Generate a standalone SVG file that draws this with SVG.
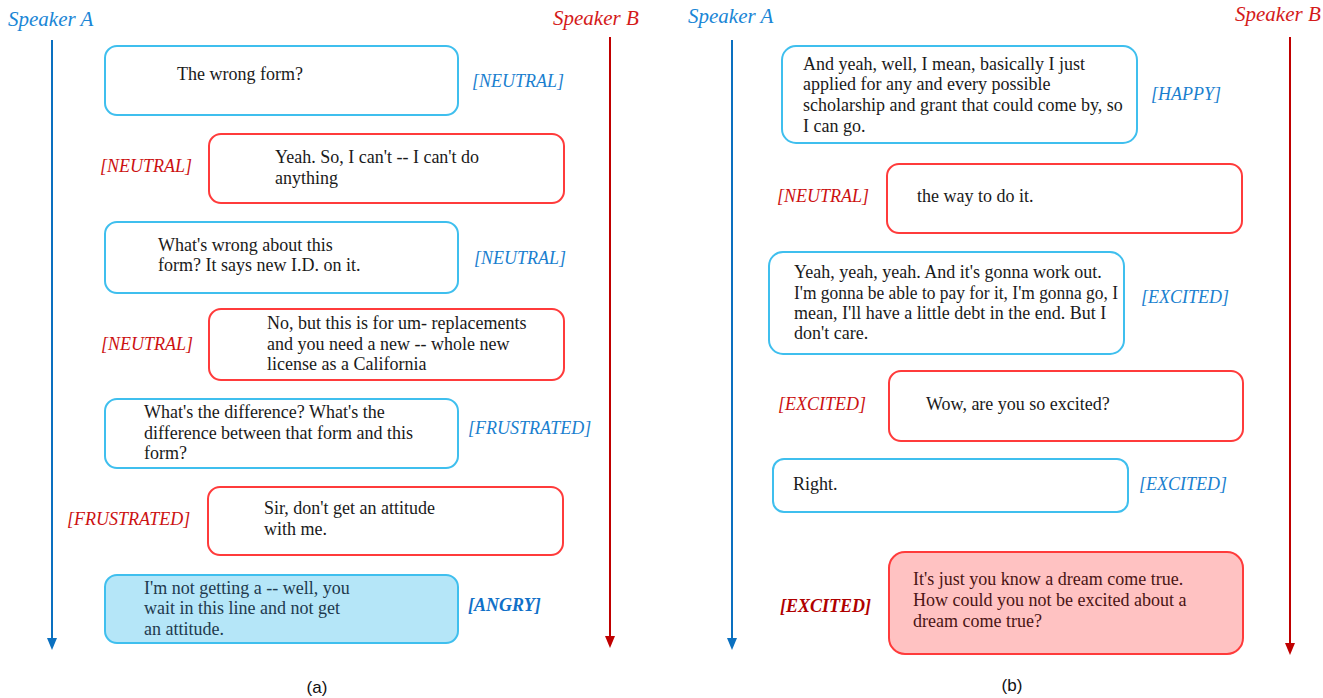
<svg xmlns="http://www.w3.org/2000/svg" width="1323" height="698" viewBox="0 0 1323 698">
<style>
.bg{fill:#ffffff}
.ba{fill:#ffffff;stroke:#3fbfee;stroke-width:2}
.baf{fill:#b5e6f8;stroke:#3fbfee;stroke-width:2}
.bb{fill:#ffffff;stroke:#ff3b3b;stroke-width:2}
.bbf{fill:#ffc2c2;stroke:#ff3b3b;stroke-width:2}
.t{font-family:"Liberation Serif","Times New Roman",serif;font-size:18px;fill:#1a1a1a}
.tdb{font-family:"Liberation Serif","Times New Roman",serif;font-size:18px;fill:#1e3a4e}
.tdr{font-family:"Liberation Serif","Times New Roman",serif;font-size:18px;fill:#4a1414}
.la{font-family:"Liberation Serif","Times New Roman",serif;font-size:18px;font-style:italic;fill:#1a7fcf}
.lb{font-family:"Liberation Serif","Times New Roman",serif;font-size:18px;font-style:italic;fill:#cc1111}
.lab{font-family:"Liberation Serif","Times New Roman",serif;font-size:18px;font-style:italic;font-weight:bold;fill:#1070c8}
.lbb{font-family:"Liberation Serif","Times New Roman",serif;font-size:18px;font-style:italic;font-weight:bold;fill:#b00000}
.sa{font-family:"Liberation Serif","Times New Roman",serif;font-size:21px;font-style:italic;fill:#1a86d6}
.sb{font-family:"Liberation Serif","Times New Roman",serif;font-size:21px;font-style:italic;fill:#d41a1a}
.cap{font-family:"Liberation Sans",Arial,sans-serif;font-size:17px;fill:#111}
.lineA{stroke:#0a70c0;stroke-width:2;fill:none}
.lineB{stroke:#c00000;stroke-width:2;fill:none}
.hA{fill:#0a70c0}
.hB{fill:#c00000}
</style>
<rect class="bg" x="0" y="0" width="1323" height="698"/>

<g id="connectors">
<line class="lineA" x1="52" y1="40" x2="52" y2="639"/>
<path class="hA" d="M47,638 L57,638 L52,650 Z"/>
<line class="lineB" x1="610" y1="37" x2="610" y2="637"/>
<path class="hB" d="M605,636 L615,636 L610,648 Z"/>
<line class="lineA" x1="732" y1="40" x2="732" y2="639"/>
<path class="hA" d="M727,638 L737,638 L732,650 Z"/>
<line class="lineB" x1="1290" y1="37" x2="1290" y2="644"/>
<path class="hB" d="M1285,643 L1295,643 L1290,655 Z"/>
</g>

<g id="speakers">
<text class="sa" x="8" y="26">Speaker A</text>
<text class="sb" x="553" y="25">Speaker B</text>
<text class="sa" x="688" y="23">Speaker A</text>
<text class="sb" x="1235" y="21">Speaker B</text>
</g>

<g id="a1">
<rect class="ba" x="105" y="46" width="353" height="69" rx="12"/>
<text class="t" x="177" y="80">The wrong form?</text>
<text class="la" x="472" y="87">[NEUTRAL]</text>
</g>
<g id="a2">
<rect class="bb" x="209" y="134" width="355" height="69" rx="12"/>
<text class="t" x="275" y="163">Yeah. So, I can't -- I can't do</text>
<text class="t" x="275" y="184">anything</text>
<text class="lb" x="100" y="172">[NEUTRAL]</text>
</g>
<g id="a3">
<rect class="ba" x="105" y="222" width="353" height="71" rx="12"/>
<text class="t" x="158" y="251">What's wrong about this</text>
<text class="t" x="158" y="271">form? It says new I.D. on it.</text>
<text class="la" x="474" y="264">[NEUTRAL]</text>
</g>
<g id="a4">
<rect class="bb" x="209" y="309" width="355" height="71" rx="12"/>
<text class="t" x="267" y="329">No, but this is for um- replacements</text>
<text class="t" x="267" y="350">and you need a new -- whole new</text>
<text class="t" x="267" y="370">license as a California</text>
<text class="lb" x="101" y="350">[NEUTRAL]</text>
</g>
<g id="a5">
<rect class="ba" x="105" y="399" width="353" height="69" rx="12"/>
<text class="t" x="144" y="418">What's the difference? What's the</text>
<text class="t" x="144" y="439">difference between that form and this</text>
<text class="t" x="144" y="459">form?</text>
<text class="la" x="468" y="434">[FRUSTRATED]</text>
</g>
<g id="a6">
<rect class="bb" x="208" y="487" width="355" height="68" rx="12"/>
<text class="t" x="264" y="514">Sir, don't get an attitude</text>
<text class="t" x="264" y="535">with me.</text>
<text class="lb" x="67" y="525">[FRUSTRATED]</text>
</g>
<g id="a7">
<rect class="baf" x="105" y="575" width="353" height="68" rx="12"/>
<text class="tdb" x="144" y="594">I'm not getting a -- well, you</text>
<text class="tdb" x="144" y="614">wait in this line and not get</text>
<text class="tdb" x="144" y="635">an attitude.</text>
<text class="lab" x="468" y="611">[ANGRY]</text>
</g>

<g id="b1">
<rect class="ba" x="782" y="46" width="355" height="97" rx="14"/>
<text class="t" x="803" y="70">And yeah, well, I mean, basically I just</text>
<text class="t" x="803" y="90">applied for any and every possible</text>
<text class="t" x="803" y="111">scholarship and grant that could come by, so</text>
<text class="t" x="803" y="132">I can go.</text>
<text class="la" x="1151" y="100">[HAPPY]</text>
</g>
<g id="b2">
<rect class="bb" x="887" y="164" width="355" height="69" rx="12"/>
<text class="t" x="917" y="202">the way to do it.</text>
<text class="lb" x="777" y="202">[NEUTRAL]</text>
</g>
<g id="b3">
<rect class="ba" x="769" y="252" width="355" height="102" rx="14"/>
<text class="t" x="794" y="278">Yeah, yeah, yeah. And it's gonna work out.</text>
<text class="t" x="794" y="299" textLength="324" lengthAdjust="spacingAndGlyphs">I'm gonna be able to pay for it, I'm gonna go, I</text>
<text class="t" x="794" y="319">mean, I'll have a little debt in the end. But I</text>
<text class="t" x="794" y="339">don't care.</text>
<text class="la" x="1141" y="303">[EXCITED]</text>
</g>
<g id="b4">
<rect class="bb" x="889" y="371" width="354" height="70" rx="12"/>
<text class="t" x="926" y="410">Wow, are you so excited?</text>
<text class="lb" x="778" y="410">[EXCITED]</text>
</g>
<g id="b5">
<rect class="ba" x="773" y="459" width="355" height="53" rx="11"/>
<text class="t" x="793" y="490">Right.</text>
<text class="la" x="1139" y="490">[EXCITED]</text>
</g>
<g id="b6">
<rect class="bbf" x="889" y="552" width="354" height="102" rx="16"/>
<text class="tdr" x="913" y="585">It's just you know a dream come true.</text>
<text class="tdr" x="913" y="606">How could you not be excited about a</text>
<text class="tdr" x="913" y="627">dream come true?</text>
<text class="lbb" x="780" y="612">[EXCITED]</text>
</g>

<text class="cap" x="317" y="693" text-anchor="middle">(a)</text>
<text class="cap" x="1012" y="691" text-anchor="middle">(b)</text>
</svg>
